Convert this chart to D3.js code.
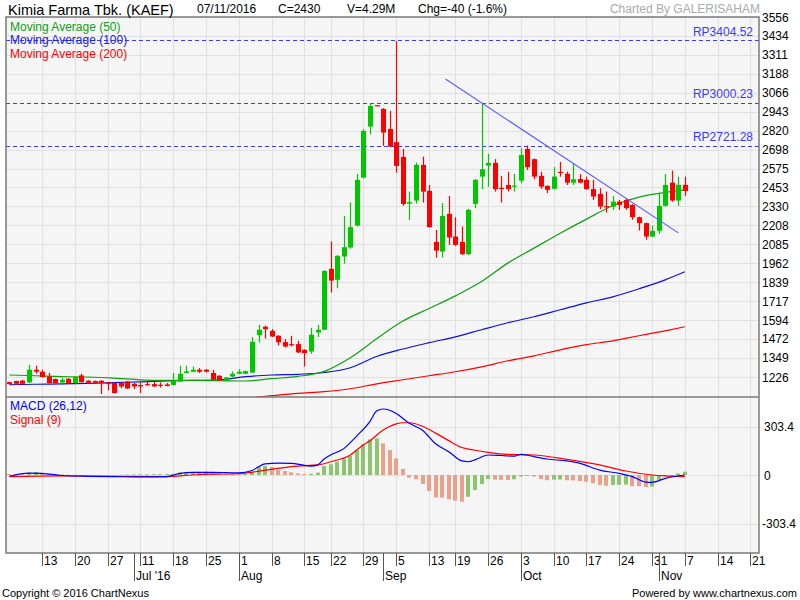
<!DOCTYPE html>
<html><head><meta charset="utf-8">
<script src="https://cdn.jsdelivr.net/npm/d3@7"></script>
<style>body{margin:0;background:#fff}svg{display:block}text{font-family:"Liberation Sans",Arial,sans-serif}</style>
</head><body><svg id="c" width="800" height="600"></svg>
<script>
// ---------- DATA ----------
const dates = ["06-06","06-07","06-08","06-09","06-10","06-13","06-14","06-15","06-16","06-17","06-20","06-21","06-22","06-23","06-24","06-27","06-28","06-29","06-30","07-01",
"07-11","07-12","07-13","07-14","07-15","07-18","07-19","07-20","07-21","07-22","07-25","07-26","07-27","07-28","07-29",
"08-01","08-02","08-03","08-04","08-05","08-08","08-09","08-10","08-11","08-12","08-15","08-16","08-18","08-19","08-22","08-23","08-24","08-25","08-26","08-29","08-30","08-31","09-01","09-02",
"09-05","09-06","09-07","09-08","09-09","09-13","09-14","09-15","09-16","09-19","09-20","09-21","09-22","09-23","09-26","09-27","09-28","09-29","09-30",
"10-03","10-04","10-05","10-06","10-07","10-10","10-11","10-12","10-13","10-14","10-17","10-18","10-19","10-20","10-21","10-24","10-25","10-26","10-27","10-28",
"10-31","11-01","11-02","11-03","11-04","11-07"];
const futureDates = ["11-08","11-09","11-10","11-11","11-14","11-15","11-16","11-17","11-18","11-21","11-22"];

const open  = [1193,1200,1202,1191,1273,1260,1229,1213,1191,1215,1187,1236,1202,1200,1202,1191,1187,1187,1197,1182,
1174,1180,1180,1176,1178,1174,1197,1252,1260,1273,1273,1252,1234,1202,1229,
1247,1247,1255,1497,1551,1525,1493,1452,1439,1439,1402,1391,1514,1532,1926,1855,2006,2064,2206,2517,2847,2985,2961,2832,
2746,2651,2348,2368,2599,2431,2101,2038,2282,2135,2101,2021,2346,2523,2594,2612,2450,2469,2460,
2497,2702,2636,2528,2463,2444,2554,2541,2484,2508,2502,2442,2411,2332,2329,2361,2372,2340,2260,2222,
2135,2172,2334,2484,2368,2470];
const high  = [1196,1202,1208,1305,1299,1273,1253,1216,1219,1218,1230,1247,1205,1203,1205,1194,1190,1195,1200,1187,
1191,1197,1195,1191,1187,1252,1299,1299,1294,1284,1278,1273,1238,1226,1262,
1277,1268,1484,1564,1559,1536,1496,1471,1493,1460,1405,1544,1564,1916,2103,2015,2269,2355,2541,2830,2998,2985,2966,2948,
3400,2702,2426,2614,2652,2469,2178,2351,2398,2260,2200,2315,2508,3000,2670,2636,2528,2553,2541,
2707,2724,2640,2555,2466,2584,2618,2555,2605,2539,2523,2502,2448,2426,2398,2372,2383,2345,2264,2226,
2206,2416,2539,2562,2523,2523];
const low   = [1178,1174,1176,1188,1247,1222,1184,1184,1176,1184,1183,1190,1186,1186,1116,1139,1119,1154,1149,1148,
1122,1171,1162,1157,1165,1172,1194,1249,1257,1252,1255,1205,1200,1198,1226,
1244,1244,1252,1450,1475,1485,1430,1417,1423,1382,1294,1376,1484,1530,1773,1801,1960,2056,2200,2510,2797,2980,2722,2714,
2549,2334,2243,2348,2355,2193,1999,1999,2081,2075,2015,2015,2319,2442,2458,2426,2355,2426,2426,
2480,2566,2506,2444,2416,2440,2523,2469,2469,2480,2438,2372,2312,2290,2308,2308,2308,2243,2174,2114,
2131,2153,2330,2361,2334,2398];
const close = [1180,1182,1182,1273,1260,1226,1187,1187,1208,1187,1226,1193,1189,1189,1187,1180,1122,1165,1152,1165,
1165,1174,1165,1172,1168,1200,1247,1262,1273,1260,1260,1208,1204,1223,1247,
1260,1264,1454,1532,1536,1488,1450,1423,1435,1385,1381,1499,1532,1913,1850,2010,2066,2196,2502,2819,2980,2980,2808,2717,
2592,2346,2358,2599,2426,2196,2044,2269,2129,2081,2021,2308,2502,2571,2612,2442,2448,2442,2465,
2663,2584,2523,2458,2437,2523,2550,2484,2506,2484,2442,2394,2329,2329,2361,2340,2319,2260,2222,2135,
2172,2334,2469,2368,2470,2430];

// moving averages, read at sampled trading-day positions
const maIdx   = [0,4,8,12,16,20,24,28,32,36,40,44,48,52,56,60,64,68,72,76,80,84,88,92,96,100,103];
const ma50    = [1239,1234,1229,1226,1219,1208,1204,1204,1202,1200,1215,1230,1262,1350,1473,1588,1669,1751,1844,1963,2060,2157,2248,2334,2390,2420,2437];
const ma100   = [1176,1179,1182,1185,1189,1195,1200,1204,1208,1228,1239,1243,1255,1286,1359,1407,1448,1486,1532,1577,1616,1661,1706,1745,1797,1855,1907];
const ma200Idx = [36,38,40,44,48,52,56,60,64,68,72,76,80,84,88,92,96,100,103];
const ma200    = [1070,1097,1105,1120,1131,1150,1182,1208,1234,1260,1292,1331,1363,1402,1435,1460,1493,1525,1551];

// MACD (26,12) and signal (9), sampled
const macdIdx = [0,3,5,8,12,16,20,24,26,28,31,35,37,39,41,43,45,46,47,48,49,51,53,55,56,57,58,59,61,63,65,67,69,70,71,73,75,77,78,80,82,85,87,90,93,95,97,98,100,103];
const macdVal = [-8,12,10,-3,-8,-10,-12,-10,10,17,17,14,28,70,74,73,60,56,62,100,125,165,245,336,400,413,405,385,323,280,195,146,88,83,95,125,122,118,129,115,100,88,73,31,10,-10,-44,-46,-21,0];
const sigIdx = [0,8,16,24,28,31,35,37,41,44,47,49,52,54,55,57,59,60,61,63,65,67,69,71,73,76,80,85,90,94,98,100,103];
const sigVal = [-10,-5,-8,-10,0,5,8,17,42,56,63,83,125,190,215,281,320,327,327,305,262,215,172,155,142,129,125,98,63,25,0,-6,-10];
const hist = [6,5,4,15,19,12,6,5,4,2,1,0,-1,-2,-3,-3.5,-4,2,3,3.5,4,4.5,5,5.5,6,
7,15,17,19,20,21,10,8,6,5,4,8,21,52,56,50,31,25,17,10,6,8,15,56,67,83,104,119,156,192,223,229,198,156,104,
38,-17,-27,-56,-100,-140,-142,-152,-160,-167,-136,-94,-56,-25,-29,-30,-31,-27,
-10,-6,-10,-25,-33,-29,-28,-33,-34,-38,-42,-52,-63,-67,-63,-61,-60,-69,-70,-75,
-73,-31,-8,-5,10,21];

const priceTicks = [3556,3434,3311,3188,3066,2943,2820,2698,2575,2453,2330,2208,2085,1962,1839,1717,1594,1472,1349,1226];
const macdTicks = [303.4,0,-303.4];
const rpLevels = [3404.52,3000.23,2721.28];
const trendIdx = [66.5,102];
const trendVal = [3155,2159];
const weekTicks = ["06-13","06-20","06-27","07-11","07-18","07-25","08-01","08-08","08-15","08-22","08-29","09-05","09-13","09-19","09-26","10-03","10-10","10-17","10-24","10-31","11-07","11-14","11-21"];
const monthTicks = ["07-01","08-01","09-01","10-03","11-01"];
const monthLabels = ["Jul '16","Aug","Sep","Oct","Nov"];

// ---------- CHART ----------
const svg = d3.select("#c");
const allDates = dates.concat(futureDates);
const pos = new Map(allDates.map((d,i)=>[d,i]));
const L=6, R=759, T=17, MID=397, B=553;
const x = d3.scaleLinear().domain([-0.5,114.3]).range([L,R]);
const y = d3.scaleLinear().domain([1226,3556]).range([377,17]);
const ym = d3.scaleLinear().domain([-303.4,303.4]).range([523.5,426.5]);
const gridC="#e0e0e0";

svg.append("rect").attr("x",L).attr("y",T).attr("width",R-L).attr("height",B-T).attr("fill","#f5f5f5");
const defs=svg.append("defs");
defs.append("clipPath").attr("id","cp").append("rect").attr("x",L).attr("y",T).attr("width",R-L).attr("height",MID-T);
defs.append("clipPath").attr("id","cm").append("rect").attr("x",L).attr("y",MID).attr("width",R-L).attr("height",B-MID);

// grid
const g=svg.append("g");
g.selectAll(".hg").data(priceTicks).join("line").attr("x1",L).attr("x2",R).attr("y1",d=>Math.round(y(d))+0.5).attr("y2",d=>Math.round(y(d))+0.5).attr("stroke",gridC);
g.selectAll(".mg").data(macdTicks).join("line").attr("x1",L).attr("x2",R).attr("y1",d=>Math.round(ym(d))+0.5).attr("y2",d=>Math.round(ym(d))+0.5).attr("stroke",gridC);
g.selectAll(".vg").data(weekTicks).join("line").attr("x1",d=>Math.round(x(pos.get(d)))+0.5).attr("x2",d=>Math.round(x(pos.get(d)))+0.5).attr("y1",T).attr("y2",B).attr("stroke",gridC);

// price axis labels
svg.append("g").selectAll("text").data(priceTicks).join("text").attr("x",762).attr("y",d=>y(d)+4.5).attr("font-size",12).attr("fill","#000").text(d=>d);
svg.append("g").selectAll("text").data(macdTicks).join("text").attr("x",d=>d<0?762:764).attr("y",d=>ym(d)+4.5).attr("font-size",12).attr("fill","#000").text(d=>d);

// price panel content
const pp=svg.append("g").attr("clip-path","url(#cp)");
pp.selectAll(".rp").data(rpLevels).join("line").attr("x1",L).attr("x2",R).attr("y1",d=>Math.round(y(d))+0.5).attr("y2",d=>Math.round(y(d))+0.5).attr("stroke","#3a3aff").attr("stroke-dasharray","4,3");
pp.selectAll(".rpt").data(rpLevels).join("text").attr("x",753).attr("y",d=>y(d)-4.5).attr("text-anchor","end").attr("font-size",12).attr("fill","#3a3aff").text(d=>"RP"+d.toFixed(2));

const lineGen=(ix,vals)=>d3.line().x((d,i)=>x(ix[i])).y(d=>y(d)).curve(d3.curveMonotoneX)(vals);
pp.append("path").attr("d",lineGen(ma200Idx,ma200)).attr("fill","none").attr("stroke","#ff0000").attr("stroke-width",1.2);
pp.append("path").attr("d",lineGen(maIdx,ma100)).attr("fill","none").attr("stroke","#1010d0").attr("stroke-width",1.2);
pp.append("path").attr("d",lineGen(maIdx,ma50)).attr("fill","none").attr("stroke","#129e12").attr("stroke-width",1.2);

const cd=dates.map((d,i)=>({i,o:open[i],h:high[i],l:low[i],c:close[i]}));
const col=d=>d.c>d.o?"#00c800":"#ff0000";
pp.selectAll(".wick").data(cd).join("line").attr("x1",d=>Math.round(x(d.i))+0.5).attr("x2",d=>Math.round(x(d.i))+0.5).attr("y1",d=>y(d.h)).attr("y2",d=>y(d.l)).attr("stroke",col).attr("stroke-width",1.2);
pp.selectAll(".body").data(cd).join("rect").attr("x",d=>Math.round(x(d.i))-2).attr("width",5)
  .attr("y",d=>y(Math.max(d.o,d.c))).attr("height",d=>Math.max(1.2,Math.abs(y(d.o)-y(d.c)))).attr("fill",col);

pp.append("line").attr("x1",x(trendIdx[0])).attr("y1",y(trendVal[0])).attr("x2",x(trendIdx[1])).attr("y2",y(trendVal[1])).attr("stroke","#5a5aff").attr("stroke-width",1.1);

const lg=[["Moving Average (50)","#129e12",30.5],["Moving Average (100)","#2020e0",44.3],["Moving Average (200)","#ff0000",58]];
svg.append("g").selectAll("text").data(lg).join("text").attr("x",10).attr("y",d=>d[2]).attr("font-size",12).attr("fill",d=>d[1]).text(d=>d[0]);

// MACD panel
const mp=svg.append("g").attr("clip-path","url(#cm)");
mp.selectAll(".hb").data(hist).join("rect")
  .attr("x",(d,i)=>Math.round(x(i))-2).attr("width",4)
  .attr("y",d=>Math.min(ym(d),ym(0))).attr("height",d=>Math.abs(ym(d)-ym(0)))
  .attr("fill",(d,i)=> (i>0 && d>hist[i-1]) ? "#8cc470" : "#eba08c");
const mline=(ix,vals)=>d3.line().x((d,i)=>x(ix[i])).y(d=>ym(d)).curve(d3.curveMonotoneX)(vals);
mp.append("path").attr("d",mline(sigIdx,sigVal)).attr("fill","none").attr("stroke","#ff0000").attr("stroke-width",1.2);
mp.append("path").attr("d",mline(macdIdx,macdVal)).attr("fill","none").attr("stroke","#0000ff").attr("stroke-width",1.2);
svg.append("text").attr("x",10).attr("y",410).attr("font-size",12).attr("fill","#0000ff").text("MACD (26,12)");
svg.append("text").attr("x",10).attr("y",423.5).attr("font-size",12).attr("fill","#ff0000").text("Signal (9)");

// borders
const bc="#7a7a7a";
svg.append("rect").attr("x",L).attr("y",T).attr("width",R-L).attr("height",B-T).attr("fill","none").attr("stroke",bc).attr("stroke-width",1.5);
svg.append("line").attr("x1",L).attr("x2",R).attr("y1",MID).attr("y2",MID).attr("stroke",bc).attr("stroke-width",1.5);

// x axis ticks
const xa=svg.append("g");
xa.selectAll(".wt").data(weekTicks).join("line").attr("x1",d=>Math.round(x(pos.get(d)))+0.5).attr("x2",d=>Math.round(x(pos.get(d)))+0.5).attr("y1",B).attr("y2",566).attr("stroke","#555");
xa.selectAll(".wl").data(weekTicks).join("text").attr("x",d=>Math.round(x(pos.get(d)))+2).attr("y",565).attr("font-size",12).attr("fill","#000").text(d=>+d.slice(3));
xa.selectAll(".mt").data(monthTicks).join("line").attr("x1",d=>Math.round(x(pos.get(d)))+0.5).attr("x2",d=>Math.round(x(pos.get(d)))+0.5).attr("y1",B).attr("y2",581).attr("stroke","#555");
xa.selectAll(".ml").data(monthTicks).join("text").attr("x",d=>Math.round(x(pos.get(d)))+2).attr("y",580).attr("font-size",12).attr("fill","#000").text((d,i)=>monthLabels[i]);

// header
svg.append("text").attr("x",8).attr("y",15).attr("font-size",14.5).attr("fill","#000").text("Kimia Farma Tbk. (KAEF)");
const hd=[["07/11/2016",197],["C=2430",278],["V=4.29M",347],["Chg=-40 (-1.6%)",418]];
svg.append("g").selectAll("text").data(hd).join("text").attr("x",d=>d[1]).attr("y",13).attr("font-size",12).attr("fill","#000").text(d=>d[0]);
svg.append("text").attr("x",760).attr("y",13).attr("text-anchor","end").attr("font-size",12).attr("fill","#aaaaaa").text("Charted By GALERISAHAM");
svg.append("text").attr("x",2).attr("y",597).attr("font-size",11).attr("fill","#000").text("Copyright © 2016 ChartNexus");
svg.append("text").attr("x",797).attr("y",597).attr("text-anchor","end").attr("font-size",11).attr("fill","#000").text("Powered by www.chartnexus.com");
</script></body></html>
